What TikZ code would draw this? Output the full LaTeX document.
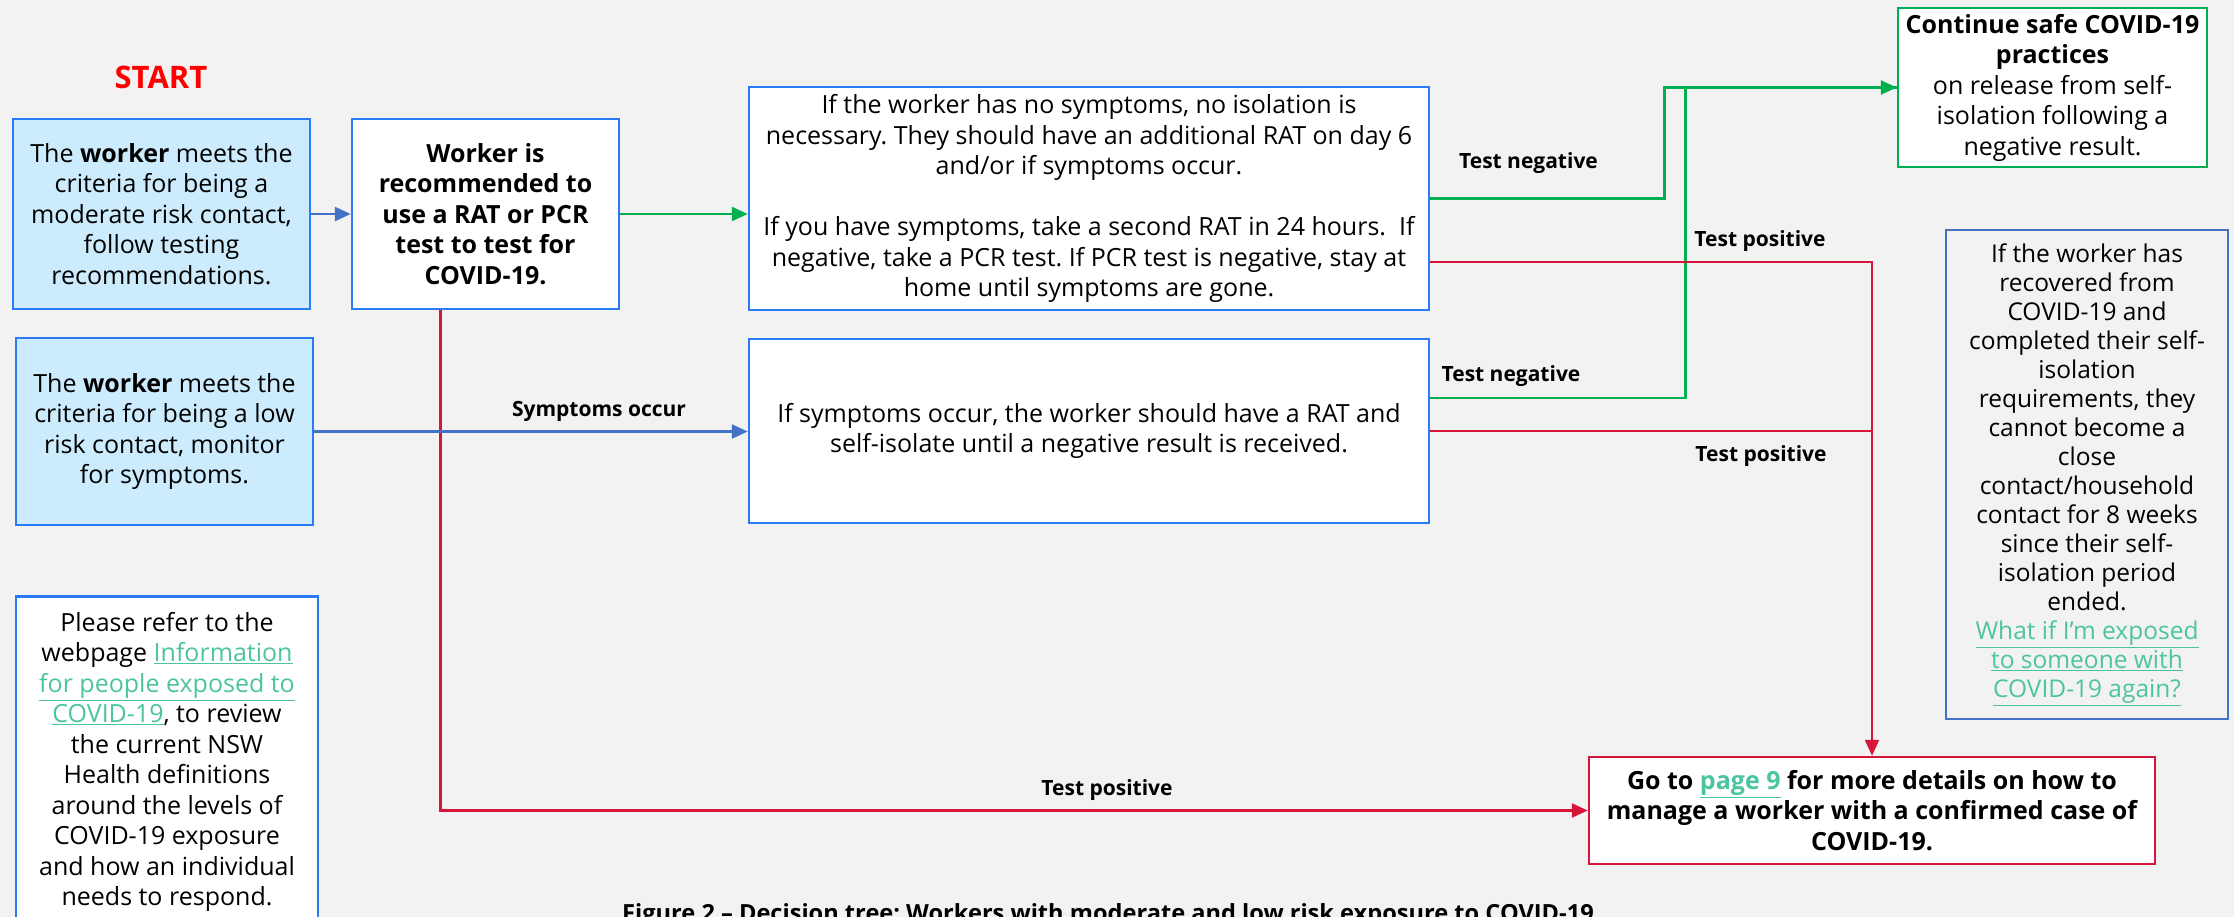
\documentclass[tikz,border=0pt]{standalone}
\usepackage{fontspec}
\setmainfont{Open Sans}
\usetikzlibrary{arrows.meta,calc}
\definecolor{bg}{HTML}{F2F2F2}
\definecolor{boxblue}{HTML}{2B7BF7}
\definecolor{lightblue}{HTML}{CCEBFC}
\definecolor{arrowblue}{HTML}{4472C4}
\definecolor{okgreen}{HTML}{00B050}
\definecolor{posred}{HTML}{D7153A}
\definecolor{startred}{HTML}{FF0000}
\definecolor{linkc}{HTML}{4DC4A0}
\newcommand{\lnk}[1]{\textcolor{linkc}{\underline{#1}}}
\newcommand{\bodyfont}{\fontsize{25}{30.5}\selectfont}
\newcommand{\smallbody}{\fontsize{24.5}{29}\selectfont}
\newcommand{\labfont}{\fontsize{21}{25}\selectfont\bfseries}
\frenchspacing
\begin{document}
\begin{tikzpicture}[x=1pt,y=-1pt,
  box/.style={draw=boxblue, line width=2.5pt, fill=white, inner sep=0pt, align=center, font=\bodyfont, text=black},
  bluebox/.style={box, fill=lightblue},
  conn/.style={line width=2.5pt},
  tip/.style={-{Triangle[length=16pt,width=14pt]}},
  lab/.style={font=\labfont, inner sep=0pt, text=black}
]
\clip (0,0) rectangle (2234,917);
\fill[bg] (0,0) rectangle (2234,917);
\useasboundingbox (0,0) rectangle (2234,917);

\node[font=\fontsize{31}{36}\selectfont\bfseries, text=startred, inner sep=0pt] (start) at (161,77) {START};

\node[bluebox, minimum width=297pt, minimum height=190pt] (box1) at (161.5,214)
  {The \textbf{worker} meets the\\criteria for being a\\moderate risk contact,\\follow testing\\recommendations.};
\node[box, minimum width=267pt, minimum height=190pt, font=\bodyfont\bfseries] (box2) at (485.5,214)
  {Worker is\\recommended to\\use a RAT or PCR\\test to test for\\COVID-19.};
\node[bluebox, minimum width=297pt, minimum height=187pt] (box3) at (164.5,431.5)
  {The \textbf{worker} meets the\\criteria for being a low\\risk contact, monitor\\for symptoms.};
\node[box, anchor=north, minimum width=302pt, minimum height=360pt] (box4) at (167,595) {};
\node[align=center, font=\bodyfont, inner sep=0pt, anchor=north] (box4t) at (167,612)
  {Please refer to the\\webpage \lnk{Information}\\\lnk{for people exposed to}\\\lnk{COVID-19}, to review\\the current NSW\\Health definitions\\around the levels of\\COVID-19 exposure\\and how an individual\\needs to respond.};

\node[box, minimum width=680pt, minimum height=223pt] (box5) at (1089,198.5)
  {If the worker has no symptoms, no isolation is\\necessary. They should have an additional RAT on day 6\\and/or if symptoms occur.\\[30.5pt]If you have symptoms, take a second RAT in 24 hours.\ \ If\\negative, take a PCR test. If PCR test is negative, stay at\\home until symptoms are gone.};
\node[box, minimum width=680pt, minimum height=184pt] (box6) at (1089,431)
  {If symptoms occur, the worker should have a RAT and\\self-isolate until a negative result is received.};

\node[box, draw=okgreen, minimum width=309pt, minimum height=159pt] (box7) at (2052.5,87.5)
  {\textbf{Continue safe COVID-19}\\\textbf{practices}\\on release from self-\\isolation following a\\negative result.};
\node[box, draw=arrowblue, fill=none, line width=1.8pt, font=\smallbody, minimum width=282pt, minimum height=489pt] (box8) at (2087,474.5)
  {If the worker has\\recovered from\\COVID-19 and\\completed their self-\\isolation\\requirements, they\\cannot become a\\close\\contact/household\\contact for 8 weeks\\since their self-\\isolation period\\ended.\\\lnk{What if I’m exposed}\\\lnk{to someone with}\\\lnk{COVID-19 again?}};
\node[box, draw=posred, minimum width=566pt, minimum height=107pt, font=\bodyfont\bfseries] (box9) at (1872,810.5)
  {Go to \lnk{page 9} for more details on how to\\manage a worker with a confirmed case of\\COVID-19.};

% connectors
\draw[conn, arrowblue, tip] (box1.east) -- (box2.west);
\draw[conn, okgreen, tip] (box2.east) -- (box2.east -| box5.west);
\draw[conn, posred, tip] ($(box2.south west)!0.3333!(box2.south east)$) |- (box9.west);
\draw[conn, arrowblue, tip] (box3.east) -- (box3.east -| box6.west);
\draw[conn, okgreen] ([yshift=33pt]box6.east) -- ++(255,0) |- (box7.west);
\draw[conn, okgreen, tip] (box5.east) -- ++(234,0) |- (box7.west);
\draw[conn, posred] (box6.east) -- (box6.east -| box9.north);
\draw[conn, posred, tip] ([yshift=-63.5pt]box5.east) -| (box9.north);

% labels
\node[lab] (l1) at (1528.5,163) {Test negative};
\node[lab] (l2) at (1760,241) {Test positive};
\node[lab] (l3) at (1511,376) {Test negative};
\node[lab] (l4) at (1761,456) {Test positive};
\node[lab] (l5) at (1107,790) {Test positive};
\node[lab] (l6) at (599,411) {Symptoms occur};

\node[font=\fontsize{23.6}{28}\selectfont\bfseries, inner sep=0pt, anchor=base] (cap) at (1108,921)
  {Figure 2 – Decision tree: Workers with moderate and low risk exposure to COVID-19};
\end{tikzpicture}
\end{document}
